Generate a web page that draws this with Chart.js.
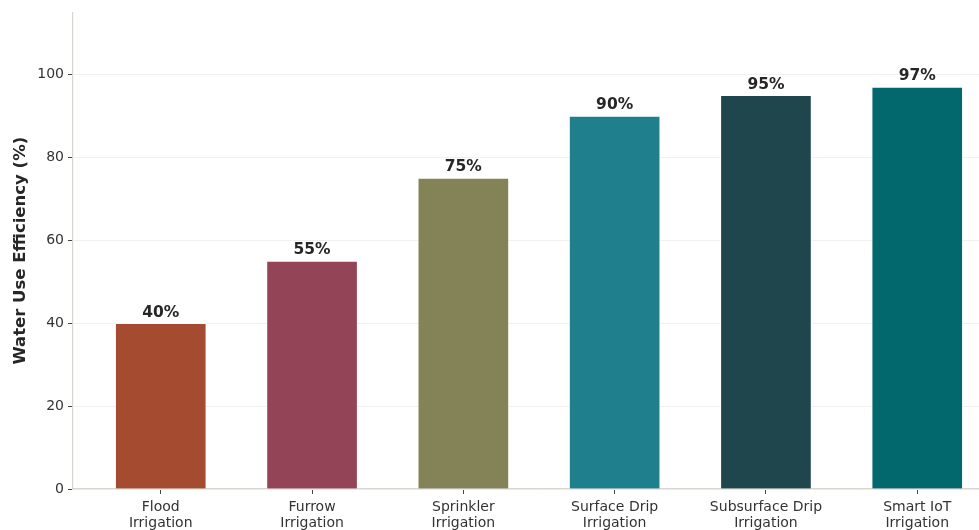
<!DOCTYPE html>
<html lang="en">
<head>
  <meta charset="UTF-8">
  <title>Water Use Efficiency by Irrigation Method</title>
  <script src="https://cdn.jsdelivr.net/npm/chart.js"></script>
  <style>
    html, body {
      margin: 0;
      padding: 0;
      background: #fff;
      overflow: hidden;
    }
    #chart {
      display: block;
    }
  </style>
</head>
<body>
  <canvas id="chart" width="1015" height="560"></canvas>

  <script>
    // Irrigation methods and their water use efficiency (%)
    const methods = [
      ['Flood', 'Irrigation'],
      ['Furrow', 'Irrigation'],
      ['Sprinkler', 'Irrigation'],
      ['Surface Drip', 'Irrigation'],
      ['Subsurface Drip', 'Irrigation'],
      ['Smart IoT', 'Irrigation']
    ];
    const efficiency = [40, 55, 75, 90, 95, 97];
    const barColors = ['#a54b2f', '#934456', '#848257', '#1f7f8d', '#1e464c', '#03686d'];
    const yTicks = [0, 20, 40, 60, 80, 100];

    const FONT = 'DejaVu Sans, Arial, sans-serif';

    // writes "xx%" above each bar
    const valueLabels = {
      id: 'valueLabels',
      afterDatasetsDraw(chart) {
        const ctx = chart.ctx;
        const meta = chart.getDatasetMeta(0);
        ctx.save();
        ctx.font = 'bold 15.5px ' + FONT;
        ctx.fillStyle = '#262626';
        ctx.textAlign = 'center';
        ctx.textBaseline = 'bottom';
        meta.data.forEach((bar, i) => {
          ctx.fillText(efficiency[i] + '%', bar.x, bar.y - 3);
        });
        ctx.restore();
      }
    };

    new Chart(document.getElementById('chart').getContext('2d'), {
      type: 'bar',
      data: {
        datasets: [{
          data: efficiency.map((v, i) => ({ x: i, y: v })),
          backgroundColor: barColors,
          borderColor: 'rgba(255,255,255,0.55)',
          borderWidth: 1,
          barThickness: 91
        }]
      },
      options: {
        responsive: false,
        animation: false,
        events: [],
        layout: { padding: { top: 12, right: 10, left: 0, bottom: 0 } },
        plugins: {
          legend: { display: false },
          tooltip: { enabled: false }
        },
        scales: {
          x: {
            type: 'linear',
            offset: false,
            min: -0.58,
            max: 5.58,
            afterBuildTicks(scale) {
              scale.ticks = methods.map((m, i) => ({ value: i }));
            },
            afterFit(scale) {
              scale.height = 71;
            },
            ticks: {
              callback: (v) => methods[v],
              color: '#333',
              padding: 5,
              maxRotation: 0,
              font: { family: FONT, size: 14, lineHeight: 1.15 }
            },
            grid: {
              offset: false,
              drawOnChartArea: false,
              tickLength: 5,
              tickColor: '#444',
              tickWidth: 1
            },
            border: { color: '#d9d6d2', width: 1.2 }
          },
          y: {
            min: 0,
            max: 115,
            afterBuildTicks(scale) {
              scale.ticks = yTicks.map(v => ({ value: v }));
            },
            afterFit(scale) {
              scale.width = 73;
            },
            ticks: {
              color: '#333',
              padding: 4,
              font: { family: FONT, size: 14 }
            },
            grid: {
              color: '#f1f0ee',
              tickColor: '#444',
              tickLength: 5,
              lineWidth: 1
            },
            border: { color: '#d9d6d2', width: 1.2 },
            title: {
              display: true,
              text: 'Water Use Efficiency (%)',
              color: '#262626',
              padding: { top: 11, bottom: 0 },
              font: { family: FONT, size: 16.5, weight: 'bold' }
            }
          }
        }
      },
      plugins: [valueLabels]
    });
  </script>
</body>
</html>
